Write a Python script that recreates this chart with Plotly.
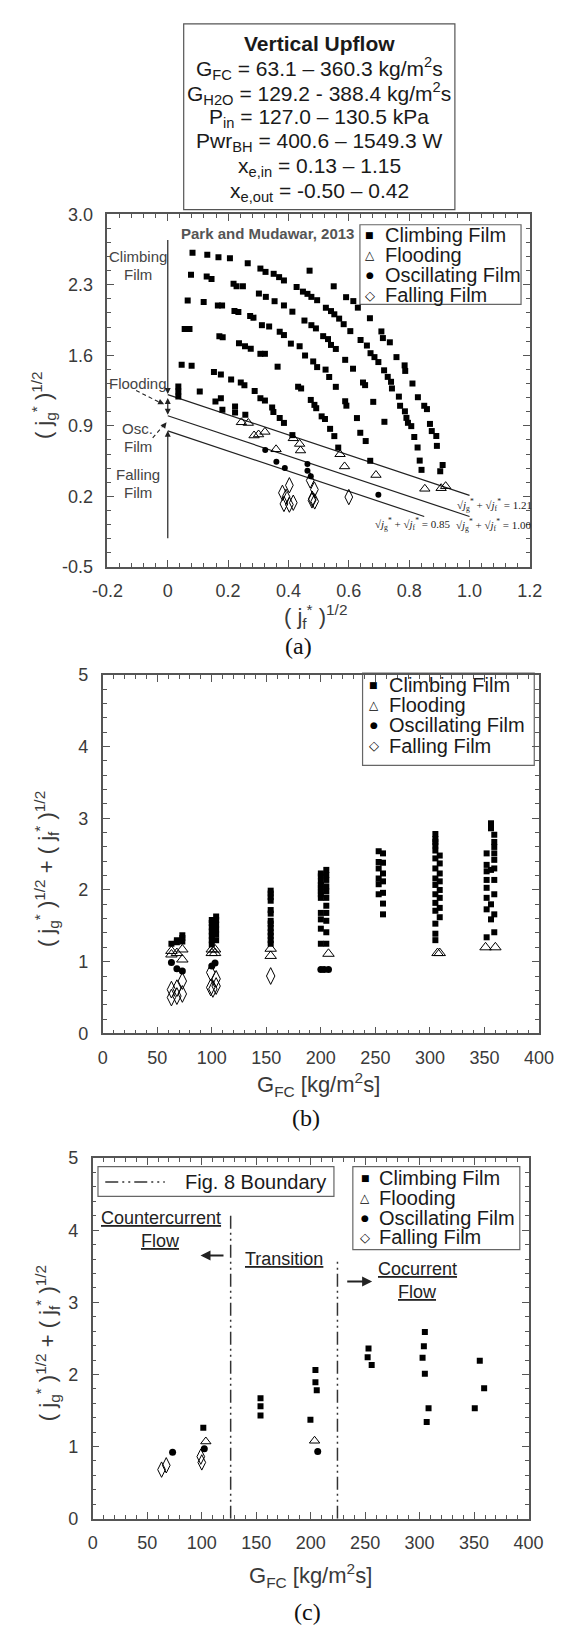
import plotly.graph_objects as go

W, H = 563, 1629
def PX(x): return x / W
def PY(y): return 1 - y / H

SANS = "Liberation Sans, Arial, sans-serif"
SERIF = "Liberation Serif, Times New Roman, serif"
AX = "#555555"
TXT = "#3a3a3a"

# ---------------- Panel (a) data: (j_f*)^1/2 vs (j_g*)^1/2 ----------------
a_climb_A_jf = [0.082,0.131,0.168,0.206,0.265,0.307,0.324,0.351,0.369,0.385,0.427,0.448,0.463,0.476,0.495,0.524,0.541,0.552,0.568,0.583,0.605,0.639,0.660,0.672,0.685,0.698,0.717,0.729,0.740,0.743,0.766,0.770,0.786,0.791,0.796,0.807,0.817,0.828,0.835,0.841]
a_climb_A_jg = [2.618,2.598,2.573,2.563,2.514,2.461,2.428,2.409,2.376,2.343,2.278,2.232,2.210,2.180,2.147,2.072,2.039,2.007,1.964,1.909,1.840,1.752,1.697,1.621,1.582,1.533,1.451,1.386,1.337,1.271,1.190,1.099,1.044,0.979,0.930,0.897,0.789,0.685,0.555,0.463]
a_climb_Z_jf = [0.470,0.550,0.591,0.615,0.630,0.670,0.708,0.713,0.736,0.758,0.785,0.787,0.811,0.829,0.850,0.859,0.869,0.875,0.890,0.892,0.911,0.903]
a_climb_Z_jg = [2.440,2.285,2.177,2.138,2.073,1.968,1.837,1.771,1.729,1.582,1.500,1.445,1.320,1.184,1.099,1.066,0.919,0.848,0.799,0.701,0.511,0.449]
a_climb_B_jf = [0.077,0.129,0.145,0.218,0.228,0.249,0.302,0.325,0.354,0.385,0.413,0.453,0.476,0.491,0.515,0.531,0.541,0.557,0.588,0.614,0.647,0.654,0.681,0.718]
a_climb_B_jg = [2.399,2.383,2.357,2.311,2.285,2.285,2.213,2.180,2.137,2.095,2.033,1.945,1.899,1.867,1.790,1.761,1.703,1.663,1.555,1.467,1.330,1.304,1.138,0.940]
a_climb_C_jf = [0.066,0.119,0.166,0.180,0.221,0.234,0.273,0.284,0.312,0.336,0.371,0.385,0.408,0.437,0.455,0.482,0.495,0.523,0.535,0.557,0.588,0.592,0.627,0.638,0.656,0.671]
a_climb_C_jg = [2.144,2.128,2.095,2.095,2.040,2.030,1.991,1.974,1.899,1.886,1.834,1.801,1.716,1.690,1.598,1.539,1.483,1.458,1.385,1.287,1.144,1.100,0.977,0.831,0.749,0.553]
a_climb_D_jf = [0.056,0.072,0.171,0.182,0.236,0.256,0.275,0.307,0.322,0.364,0.432,0.442,0.474,0.486,0.492,0.510,0.521,0.538,0.552,0.565]
a_climb_D_jg = [1.860,1.860,1.788,1.778,1.719,1.690,1.664,1.615,1.615,1.487,1.288,1.271,1.157,1.108,1.075,0.994,0.968,0.870,0.798,0.684]
a_climb_E_jf = [0.046,0.079,0.153,0.176,0.210,0.242,0.254,0.288,0.307,0.322,0.346,0.350,0.371,0.385,0.413]
a_climb_E_jg = [1.507,1.497,1.435,1.409,1.360,1.331,1.304,1.246,1.174,1.151,1.082,1.037,0.978,0.929,0.808]
a_climb_F_jf = [0.035,0.035,0.035,0.106,0.158,0.176,0.181,0.223,0.223,0.257]
a_climb_F_jg = [1.290,1.240,1.190,1.240,1.141,1.173,1.059,1.092,1.033,1.010]

a_flood_jf = [0.244,0.267,0.286,0.301,0.322,0.359,0.416,0.437,0.440,0.571,0.586,0.690,0.852,0.906,0.921]
a_flood_jg = [0.935,0.928,0.804,0.814,0.840,0.667,0.776,0.720,0.655,0.618,0.497,0.412,0.275,0.281,0.301]
a_osc_jf = [0.323,0.360,0.388,0.463,0.463,0.474,0.698]
a_osc_jg = [0.660,0.543,0.482,0.520,0.455,0.400,0.216]
a_fall_jf = [0.403,0.380,0.392,0.385,0.403,0.416,0.472,0.486,0.479,0.487,0.478,0.600]
a_fall_jg = [0.310,0.235,0.195,0.125,0.118,0.137,0.358,0.268,0.176,0.150,0.160,0.193]

# correlation lines sqrt(jg*) + sqrt(jf*) = C
a_line_C = [1.21, 1.00, 0.85]
a_line_xend = [1.00, 1.00, 0.85]
a_line_labels = ["1.21", "1.00", "0.85"]

a_xticks = [-0.2, 0, 0.2, 0.4, 0.6, 0.8, 1.0, 1.2]
a_xticktext = ["-0.2", "0", "0.2", "0.4", "0.6", "0.8", "1.0", "1.2"]
a_yticks = [-0.5, 0.2, 0.9, 1.6, 2.3, 3.0]
a_yticktext = ["-0.5", "0.2", "0.9", "1.6", "2.3", "3.0"]

# ---------------- Panel (b) data: G_FC vs sum ----------------
b_climb_cols = [63, 68, 73, 100, 104, 154, 200, 205, 253, 257, 305, 309, 352, 356, 359]
b_climb_vals = [
    [1.25],
    [1.27, 1.30],
    [1.28, 1.33, 1.37],
    [1.24, 1.30, 1.36, 1.42, 1.48, 1.54, 1.58],
    [1.30, 1.38, 1.45, 1.52, 1.58, 1.63],
    [1.99, 1.95, 1.90, 1.85, 1.72, 1.67, 1.57, 1.53, 1.47, 1.41, 1.36, 1.30, 1.25],
    [2.23, 2.19, 2.12, 2.07, 2.03, 1.98, 1.94, 1.89, 1.68, 1.59, 1.46, 1.25],
    [2.28, 2.21, 2.14, 2.05, 1.98, 1.89, 1.78, 1.68, 1.57, 1.41, 1.25],
    [2.54, 2.39, 2.30, 2.16, 2.08, 1.94],
    [2.51, 2.38, 2.23, 2.12, 1.96, 1.81, 1.66],
    [2.78, 2.71, 2.67, 2.62, 2.55, 2.44, 2.30, 2.16, 2.07, 1.94, 1.82, 1.71, 1.53, 1.39, 1.30],
    [2.48, 2.37, 2.23, 2.12, 2.00, 1.89, 1.75, 1.62],
    [2.51, 2.35, 2.26, 2.14, 2.03, 1.89, 1.73, 1.34],
    [2.93, 2.86, 2.28, 1.80, 1.59],
    [2.77, 2.67, 2.60, 2.51, 2.42, 2.30, 2.14, 1.94, 1.66, 1.41],
]
b_flood_G = [63, 63, 68, 73, 73, 100, 100, 103, 103, 154, 154, 207, 307, 309, 351, 360]
b_flood_V = [1.15, 1.10, 1.12, 1.17, 1.03, 1.17, 1.12, 1.12, 1.17, 1.18, 1.08, 1.11, 1.12, 1.12, 1.20, 1.20]
b_osc_G = [63, 68, 73, 100, 103, 200, 203, 207]
b_osc_V = [0.99, 0.90, 0.87, 0.94, 0.98, 0.89, 0.89, 0.89]
b_fall_G = [63, 63, 68, 68, 73, 73, 99, 99, 101, 104, 104, 154]
b_fall_V = [0.61, 0.50, 0.63, 0.52, 0.73, 0.55, 0.85, 0.64, 0.62, 0.76, 0.66, 0.80]

# ---------------- Panel (c) data ----------------
c_climb_G = [101.5, 154, 154, 154, 204.4, 204.4, 205.6, 199.8, 253.1, 252.3, 256, 304.8, 303.9, 302.7, 304.8, 308.2, 306.5, 355.2, 359.2, 350.6]
c_climb_V = [1.26, 1.67, 1.56, 1.43, 2.06, 1.89, 1.78, 1.37, 2.36, 2.24, 2.13, 2.59, 2.39, 2.23, 2.01, 1.53, 1.34, 2.19, 1.81, 1.53]
c_flood_G = [103.8, 203.6]
c_flood_V = [1.07, 1.08]
c_osc_G = [73.3, 102.4, 206.5]
c_osc_V = [0.92, 0.97, 0.93]
c_fall_G = [63.2, 67.5, 99.2, 100.1]
c_fall_V = [0.68, 0.74, 0.86, 0.78]
c_bound_G = [126.6, 224.6]
c_bound_top = [4.2, 3.6]

G_ticks = [0, 50, 100, 150, 200, 250, 300, 350, 400]
S_ticks = [0, 1, 2, 3, 4, 5]

fig = go.Figure()

def pts(x, y, sym, size, xa, ya, lw=1.0):
    fig.add_trace(go.Scatter(
        x=x, y=y, mode="markers", xaxis=xa, yaxis=ya, showlegend=False,
        marker=dict(symbol=sym, size=size, color="black",
                    line=dict(color="black", width=lw))))

# panel (a) lines
for C, xe in zip(a_line_C, a_line_xend):
    fig.add_trace(go.Scatter(x=[0, xe], y=[C, C - xe], mode="lines", xaxis="x", yaxis="y",
                             showlegend=False, line=dict(color="#222", width=1.2)))

a_climb_jf = a_climb_A_jf + a_climb_Z_jf + a_climb_B_jf + a_climb_C_jf + a_climb_D_jf + a_climb_E_jf + a_climb_F_jf
a_climb_jg = a_climb_A_jg + a_climb_Z_jg + a_climb_B_jg + a_climb_C_jg + a_climb_D_jg + a_climb_E_jg + a_climb_F_jg
pts(a_climb_jf, a_climb_jg, "square", 6, "x", "y", 0)
pts(a_flood_jf, a_flood_jg, "triangle-up-open", 9, "x", "y")
pts(a_osc_jf, a_osc_jg, "circle", 6, "x", "y", 0)
pts(a_fall_jf, a_fall_jg, "diamond-tall-open", 11, "x", "y")

# panel (b)
b_climb_G = [g for g, vs in zip(b_climb_cols, b_climb_vals) for _ in vs]
b_climb_V = [v for vs in b_climb_vals for v in vs]
pts(b_climb_G, b_climb_V, "square", 6, "x2", "y2", 0)
pts(b_flood_G, b_flood_V, "triangle-up-open", 10, "x2", "y2")
pts(b_osc_G, b_osc_V, "circle", 7, "x2", "y2", 0)
pts(b_fall_G, b_fall_V, "diamond-tall-open", 12, "x2", "y2")

# panel (c)
for g, top in zip(c_bound_G, c_bound_top):
    fig.add_trace(go.Scatter(x=[g, g], y=[0, top], mode="lines", xaxis="x3", yaxis="y3",
                             showlegend=False,
                             line=dict(color="#333", width=1.5, dash="13px,4px,2px,4px,2px,4px")))
pts(c_climb_G, c_climb_V, "square", 6, "x3", "y3", 0)
pts(c_flood_G, c_flood_V, "triangle-up-open", 9, "x3", "y3")
pts(c_osc_G, c_osc_V, "circle", 7, "x3", "y3", 0)
pts(c_fall_G, c_fall_V, "diamond-tall-open", 11, "x3", "y3")

def axis(domain, rng, tickvals, ticktext, minor_dtick, minor_t0, standoff):
    return dict(domain=domain, range=rng, tickmode="array", tickvals=tickvals, ticktext=ticktext,
                ticks="inside", ticklen=7, tickwidth=1, tickcolor=AX,
                showline=True, linecolor=AX, linewidth=1.6, mirror="allticks",
                showgrid=False, zeroline=False,
                tickfont=dict(family=SANS, size=18, color=TXT),
                ticklabelstandoff=standoff,
                minor=dict(tickmode="linear", tick0=minor_t0, dtick=minor_dtick, ticks="inside",
                           ticklen=4, tickwidth=1, tickcolor=AX, showgrid=False))

layout = dict(
    width=W, height=H, margin=dict(l=0, r=0, t=0, b=0),
    paper_bgcolor="white", plot_bgcolor="white", showlegend=False,
    xaxis=axis([PX(88.3), PX(535.3)], [-0.2, 1.2], a_xticks, a_xticktext, 0.04, -0.2, 7),
    yaxis=axis([PY(555.7), PY(198.7)], [-0.5, 3.0], a_yticks, a_yticktext, 0.14, -0.5, 9),
    xaxis2=axis([PX(83.3), PX(545)], [0, 400], G_ticks, [str(t) for t in G_ticks], 10, 0, 7),
    yaxis2=axis([PY(1028), PY(665)], [0, 5], S_ticks, [str(t) for t in S_ticks], 0.2, 0, 9),
    xaxis3=axis([PX(72.7), PX(534)], [0, 400], G_ticks, [str(t) for t in G_ticks], 10, 0, 7),
    yaxis3=axis([PY(1519.3), PY(1154.3)], [0, 5], S_ticks, [str(t) for t in S_ticks], 0.2, 0, 9),
)
layout["xaxis"]["anchor"] = "y"; layout["yaxis"]["anchor"] = "x"
layout["xaxis2"]["anchor"] = "y2"; layout["yaxis2"]["anchor"] = "x2"
layout["xaxis3"]["anchor"] = "y3"; layout["yaxis3"]["anchor"] = "x3"
fig.update_layout(**layout)

annotations = []
shapes = []

def txt(text, x, y, size=18, family=SANS, color=TXT, xanchor="center", yanchor="middle",
        xref="paper", yref="paper", angle=0):
    annotations.append(dict(text=text, x=x, y=y, xref=xref, yref=yref, showarrow=False,
                            xanchor=xanchor, yanchor=yanchor, textangle=angle, borderpad=0,
                            font=dict(family=family, size=size, color=color)))

def arrow(x, y, ax, ay, xref, yref, side="end", width=1.2, size=1.0, head=2):
    annotations.append(dict(text="", x=x, y=y, ax=ax, ay=ay, xref=xref, yref=yref,
                            axref=xref, ayref=yref, showarrow=True, arrowhead=head,
                            startarrowhead=head, arrowside=side, arrowwidth=width,
                            arrowsize=size, startarrowsize=size, arrowcolor="#222"))

# ---- header box ----
shapes.append(dict(type="rect", xref="paper", yref="paper", x0=PX(169), x1=PX(456),
                   y0=PY(194), y1=PY(6), line=dict(color="#555", width=1.2)))
header_lines = [
    "<b>Vertical Upflow</b>",
    "G<sub>FC</sub> = 63.1 – 360.3 kg/m<sup>2</sup>s",
    "G<sub>H2O</sub> = 129.2 - 388.4 kg/m<sup>2</sup>s",
    "P<sub>in</sub> = 127.0 – 130.5 kPa",
    "Pwr<sub>BH</sub> = 400.6 – 1549.3 W",
    "x<sub>e,in</sub> = 0.13 – 1.15",
    "x<sub>e,out</sub> = -0.50 – 0.42",
]
header_y = [26, 51, 76, 101, 126, 151, 176]
for t, yy in zip(header_lines, header_y):
    txt(t, PX(312.5), PY(yy), size=21, color="#1a1a1a")

# ---- legends (manual) ----
leg_labels = ["Climbing Film", "Flooding", "Oscillating Film", "Falling Film"]
leg_glyphs = [("■", 9), ("△", 12), ("●", 9), ("◇", 13)]

def legend(x0, x1, y0, y1, rows, mx, tx):
    shapes.append(dict(type="rect", xref="paper", yref="paper", x0=PX(x0), x1=PX(x1),
                       y0=PY(y1), y1=PY(y0), line=dict(color="#666", width=1.2),
                       fillcolor="white", layer="below"))
    for (g, gs), lab, ry in zip(leg_glyphs, leg_labels, rows):
        txt(g, PX(mx), PY(ry), size=gs, family="DejaVu Sans", color="black")
        txt(lab, PX(tx), PY(ry), size=20, xanchor="left", color="#1a1a1a")

legend(355.5, 526, 209.3, 290, [219.5, 240, 260, 280.5], 366, 381)
legend(358.3, 540, 663.3, 756.7, [675, 695.5, 716, 737], 370, 385.5)
legend(348, 524.7, 1163, 1247, [1174, 1194.5, 1214.5, 1234.5], 361, 375)

# ---- panel (a) annotations ----
txt("<b>Park and Mudawar, 2013</b>", 0.329, 2.81, size=15, color="#555", xref="x", yref="y")
for t, yy in [("Climbing", 2.58), ("Film", 2.40), ("Flooding", 1.32), ("Osc.", 0.87),
              ("Film", 0.69), ("Falling", 0.42), ("Film", 0.24)]:
    txt(t, -0.10, yy, size=15, color="#444", xref="x", yref="y")
arrow(0, 1.215, 0, 2.76, "x", "y")
arrow(0, 1.01, 0, 1.19, "x", "y", side="end+start")
arrow(0, 0.85, 0, -0.23, "x", "y")
shapes.append(dict(type="line", xref="x", yref="y", x0=-0.105, y0=1.25, x1=-0.025, y1=1.13,
                   line=dict(color="#222", width=1.1, dash="4px,3px")))
arrow(-0.012, 1.115, -0.03, 1.14, "x", "y", size=1.0)
shapes.append(dict(type="line", xref="x", yref="y", x0=-0.05, y0=0.78, x1=-0.013, y1=0.91,
                   line=dict(color="#222", width=1.1, dash="4px,3px")))
arrow(-0.004, 0.935, -0.012, 0.905, "x", "y", size=1.0)

eq = "√<i>j</i><sub>g</sub><sup>*</sup> + √<i>j</i><sub>f</sub><sup>*</sup> = "
txt(eq + a_line_labels[0], 1.083, 0.112, size=11, family=SERIF, color="#222", xref="x", yref="y")
txt(eq + a_line_labels[1], 1.079, -0.084, size=11, family=SERIF, color="#222", xref="x", yref="y")
txt(eq + a_line_labels[2], 0.812, -0.074, size=11, family=SERIF, color="#222", xref="x", yref="y")

# ---- axis titles & panel labels ----
txt("( j<sub>f</sub><sup>*</sup> )<sup>1/2</sup>", PX(308), PY(606), size=22)
txt("( j<sub>g</sub><sup>*</sup> )<sup>1/2</sup>", PX(20), PY(392), size=22, angle=-90)
txt("(a)", PX(291), PY(636), size=24, family=SERIF, color="#111")

ytitle_sum = "( j<sub>g</sub><sup>*</sup> )<sup>1/2</sup> + ( j<sub>f</sub><sup>*</sup> )<sup>1/2</sup>"
txt(ytitle_sum, PX(24), PY(862), size=22, angle=-90)
txt("G<sub>FC</sub> [kg/m<sup>2</sup>s]", PX(312), PY(1080), size=22)
txt("(b)", PX(298), PY(1114), size=24, family=SERIF, color="#111")

txt(ytitle_sum, PX(25), PY(1342), size=22, angle=-90)
txt("G<sub>FC</sub> [kg/m<sup>2</sup>s]", PX(303), PY(1577), size=22)
txt("(c)", PX(300), PY(1614), size=24, family=SERIF, color="#111")

# ---- panel (c) annotations ----
shapes.append(dict(type="rect", xref="paper", yref="paper", x0=PX(78.3), x1=PX(328),
                   y0=PY(1193), y1=PY(1163), line=dict(color="#666", width=1.2),
                   fillcolor="white", layer="below"))
shapes.append(dict(type="line", xref="paper", yref="paper", x0=PX(86), x1=PX(149),
                   y0=PY(1178.5), y1=PY(1178.5),
                   line=dict(color="#333", width=1.6, dash="13px,4px,2px,4px,2px,4px")))
txt("Fig. 8 Boundary", PX(169), PY(1178.5), size=20, xanchor="left", color="#1a1a1a")

txt("<u>Countercurrent</u>", 62.6, 4.17, size=18, color="#222", xref="x3", yref="y3")
txt("<u>Flow</u>", 62.6, 3.85, size=18, color="#222", xref="x3", yref="y3")
txt("<u>Transition</u>", 175.1, 3.60, size=18, color="#222", xref="x3", yref="y3")
txt("<u>Cocurrent</u>", 297.9, 3.46, size=18, color="#222", xref="x3", yref="y3")
txt("<u>Flow</u>", 297.9, 3.15, size=18, color="#222", xref="x3", yref="y3")
arrow(98.9, 3.65, 121.4, 3.65, "x3", "y3", width=2, size=1.0)
arrow(256.4, 3.29, 232.2, 3.29, "x3", "y3", width=2, size=1.0)

fig.update_layout(annotations=annotations, shapes=shapes)
fig.write_html("out.html")
